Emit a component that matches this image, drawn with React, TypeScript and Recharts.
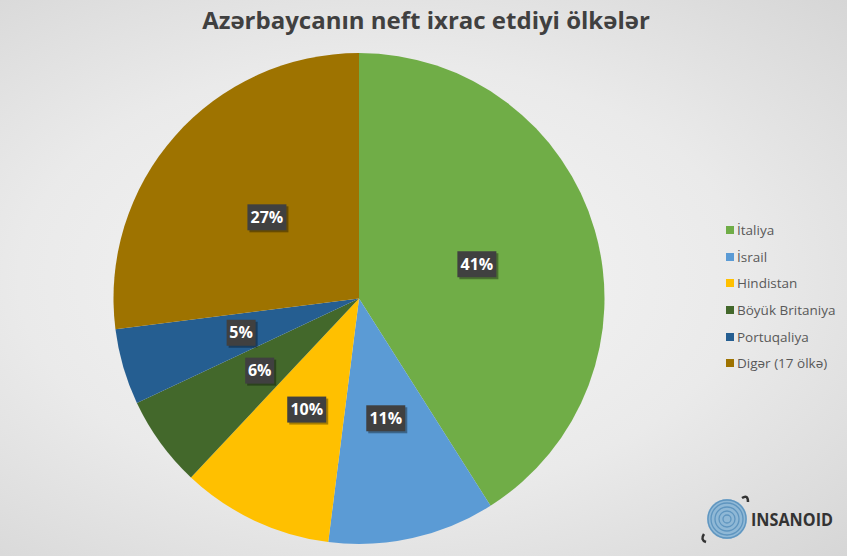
import { Legend, Pie, PieChart, Cell } from "recharts"

const countries = ["İtaliya", "İsrail", "Hindistan", "Böyük Britaniya", "Portuqaliya", "Digər (17 ölkə)"]
const shares = [41, 11, 10, 6, 5, 27]
const colors = ["#70AD47", "#5B9BD5", "#FFC000", "#43682B", "#255E91", "#9E7300"]

const data = countries.map((name, i) => ({ name, value: shares[i] }))

const RAD = Math.PI / 180

function SliceLabel(props: any) {
  const { cx, cy, midAngle, outerRadius, value } = props
  const r = outerRadius * 0.5
  const x = cx + r * Math.cos(-midAngle * RAD)
  const y = cy + r * Math.sin(-midAngle * RAD)
  const txt = `${value}%`
  const w = txt.length * 10 + 9
  const h = 26
  return (
    <g>
      <rect x={x - w / 2 + 2} y={y - h / 2 + 2} width={w} height={h} fill="rgba(0,0,0,0.35)" />
      <rect x={x - w / 2} y={y - h / 2} width={w} height={h} fill="#404040" />
      <text
        x={x}
        y={y + 5.5}
        textAnchor="middle"
        fill="#fff"
        fontSize={16}
        fontWeight="bold"
        fontFamily="'Open Sans', sans-serif"
      >
        {txt}
      </text>
    </g>
  )
}

function LegendBox() {
  return (
    <div style={{ fontFamily: "'Open Sans', sans-serif", fontSize: 13.5, color: "#595959" }}>
      {data.map((d, i) => (
        <div key={d.name} style={{ display: "flex", alignItems: "center", height: 26.6, whiteSpace: "nowrap" }}>
          <span style={{ width: 8, height: 8, background: colors[i], marginRight: 3, display: "inline-block" }} />
          <span>{d.name}</span>
        </div>
      ))}
    </div>
  )
}

function Logo() {
  return (
    <svg width={147} height={80} style={{ position: "absolute", left: 700, top: 476 }}>
      <circle cx={27} cy={43} r={20} fill="#8fb8d6" />
      {[4, 8, 12, 16, 19].map((r) => (
        <circle key={r} cx={27} cy={43} r={r} fill="none" stroke="#5f95bf" strokeWidth={1.3} />
      ))}
      <path d="M42 22 q6 -4 6 4" fill="none" stroke="#333" strokeWidth={2.5} />
      <path d="M6 66 q-6 -2 -2 -8" fill="none" stroke="#333" strokeWidth={2.5} />
      <text
        x={51}
        y={50}
        fontSize={18}
        fontWeight="bold"
        fill="#333"
        fontFamily="'Open Sans', sans-serif"
        textLength={82}
        lengthAdjust="spacingAndGlyphs"
      >
        INSANOID
      </text>
    </svg>
  )
}

export default function App() {
  return (
    <div
      style={{
        position: "absolute",
        left: 0,
        top: 0,
        width: 847,
        height: 556,
        background: "radial-gradient(ellipse at 45% 50%, #f6f6f6 0%, #eaeaea 55%, #d6d6d6 100%)",
        overflow: "hidden",
      }}
    >
      <div
        style={{
          position: "absolute",
          left: 0,
          top: 3,
          width: 852,
          textAlign: "center",
          fontFamily: "'Open Sans', sans-serif",
          fontWeight: 700,
          fontSize: 24,
          color: "#404040",
        }}
      >
        Azərbaycanın neft ixrac etdiyi ölkələr
      </div>
      <PieChart width={847} height={556} margin={{ top: 0, right: 0, bottom: 0, left: 0 }}>
        <Pie
          data={data}
          dataKey="value"
          nameKey="name"
          cx={359}
          cy={298.5}
          outerRadius={245.5}
          startAngle={90}
          endAngle={-270}
          stroke="none"
          labelLine={false}
          label={SliceLabel}
          isAnimationActive={false}
        >
          {data.map((d, i) => (
            <Cell key={d.name} fill={colors[i]} />
          ))}
        </Pie>
        <Legend
          layout="vertical"
          content={<LegendBox />}
          wrapperStyle={{ left: 726, top: 217, width: 125 }}
        />
      </PieChart>
      <Logo />
    </div>
  )
}
